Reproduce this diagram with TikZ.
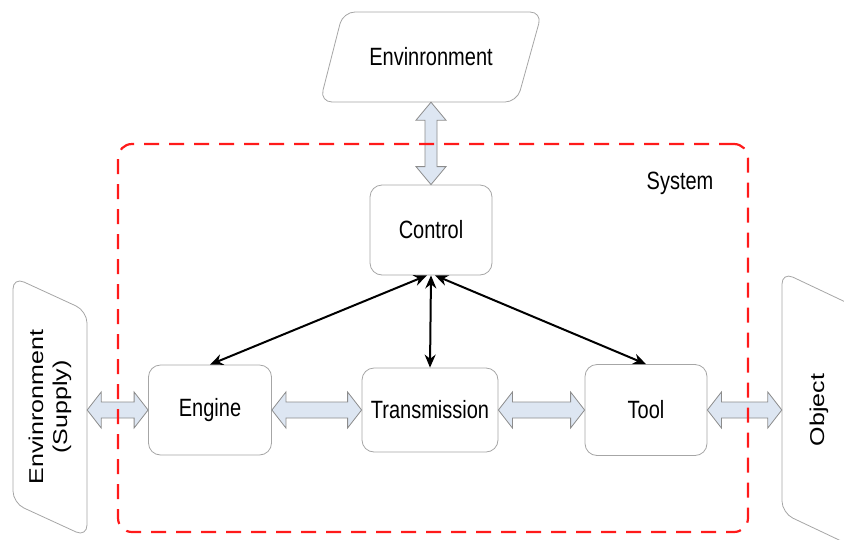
\documentclass[tikz,border=0pt]{standalone}
\usepackage{fontspec}
\setmainfont{Liberation Sans}
\usepackage{graphicx}
\usetikzlibrary{arrows.meta,calc}
\definecolor{arrfill}{HTML}{DDE6F2}
\definecolor{arrdraw}{HTML}{8C8C8C}
\definecolor{boxdraw}{HTML}{A6A6A6}
\definecolor{sysred}{HTML}{FF1A1A}
\newcommand\vs[1]{\scalebox{1}[1.25]{#1}}
\newcommand\hs[1]{\scalebox{1.25}[1]{#1}}
\newcommand\hdbl[2]{\draw[blockarrow] let \p1=(#1), \p2=(#2) in
  (\x1,\y1) -- (\x1+14pt,\y1+18pt) -- (\x1+14pt,\y1+8pt) -- (\x2-14pt,\y1+8pt) -- (\x2-14pt,\y1+18pt)
  -- (\x2,\y1) -- (\x2-14pt,\y1-18pt) -- (\x2-14pt,\y1-8pt) -- (\x1+14pt,\y1-8pt) -- (\x1+14pt,\y1-18pt) -- cycle;}
\newcommand\vdbl[2]{\draw[blockarrow] let \p1=(#1), \p2=(#2) in
  (\x1,\y1) -- (\x1+15pt,\y1-18pt) -- (\x1+6pt,\y1-18pt) -- (\x1+6pt,\y2+18pt) -- (\x1+15pt,\y2+18pt)
  -- (\x1,\y2) -- (\x1-15pt,\y2+18pt) -- (\x1-6pt,\y2+18pt) -- (\x1-6pt,\y1-18pt) -- (\x1-15pt,\y1-18pt) -- cycle;}
\begin{document}
\begin{tikzpicture}[x=1pt,y=-1pt, font=\fontsize{20}{24}\selectfont,
 box/.style={draw=boxdraw, line width=0.8pt, rounded corners=12pt, fill=white, inner sep=0pt},
 para/.style={draw=boxdraw, line width=0.8pt, rounded corners=12pt, fill=white},
 lbl/.style={inner sep=0pt},
 blockarrow/.style={draw=arrdraw, fill=arrfill, line width=0.8pt, line join=miter},
 link/.style={line width=2pt, <->, >={Stealth[length=13pt,width=11pt]}},
 sys/.style={draw=sysred, line width=2.2pt, dash pattern=on 15pt off 10pt, rounded corners=14pt}]
\clip (0,0) rectangle (844,539);
\useasboundingbox (0,0) rectangle (844,539);

% parallelogram outlines
\draw[para] (343,12) -- (542,12) -- (517,102) -- (320,102) -- cycle;
\draw[para] (13,277) -- (87,311) -- (87,537) -- (13,503) -- cycle;
\draw[para] (782,272) -- (856,307) -- (856,548) -- (782,513) -- cycle;

\node[lbl, minimum height=90pt] (env) at (431,57) {\vs{Envinronment}};
\node[lbl, rotate=90, align=center, minimum height=74pt] (sup) at (50,407) {\hs{Envinronment}\\\hs{(Supply)}};
\node[lbl, rotate=90, minimum height=74pt] (obj) at (819,410) {\hs{Object}};

\node[box, minimum width=122pt, minimum height=90pt] (ctrl) at (431,230) {\vs{Control}};
\node[box, minimum width=123pt, minimum height=90pt] (eng) at (210,410) {\vs{Engine}};
\node[box, minimum width=136pt, minimum height=84pt] (tr) at (430,410) {\vs{Transmission}};
\node[box, minimum width=122pt, minimum height=91pt] (tool) at (646,410) {\vs{Tool}};
\node (syslbl) at (680,183) {\vs{System}};

\vdbl{env.south}{ctrl.north}
\hdbl{eng.west -| sup.south}{eng.west}
\hdbl{eng.east}{tr.west}
\hdbl{tr.east}{tool.west}
\hdbl{tool.east}{tool.east -| obj.north}

\draw[link] ([xshift=-4pt]ctrl.south) -- (eng.north);
\draw[link] (ctrl.south) -- (tr.north);
\draw[link] ([xshift=4pt]ctrl.south) -- (tool.north);

\node[sys, minimum width=630pt, minimum height=388pt] (system) at (433,338) {};
\end{tikzpicture}
\end{document}
